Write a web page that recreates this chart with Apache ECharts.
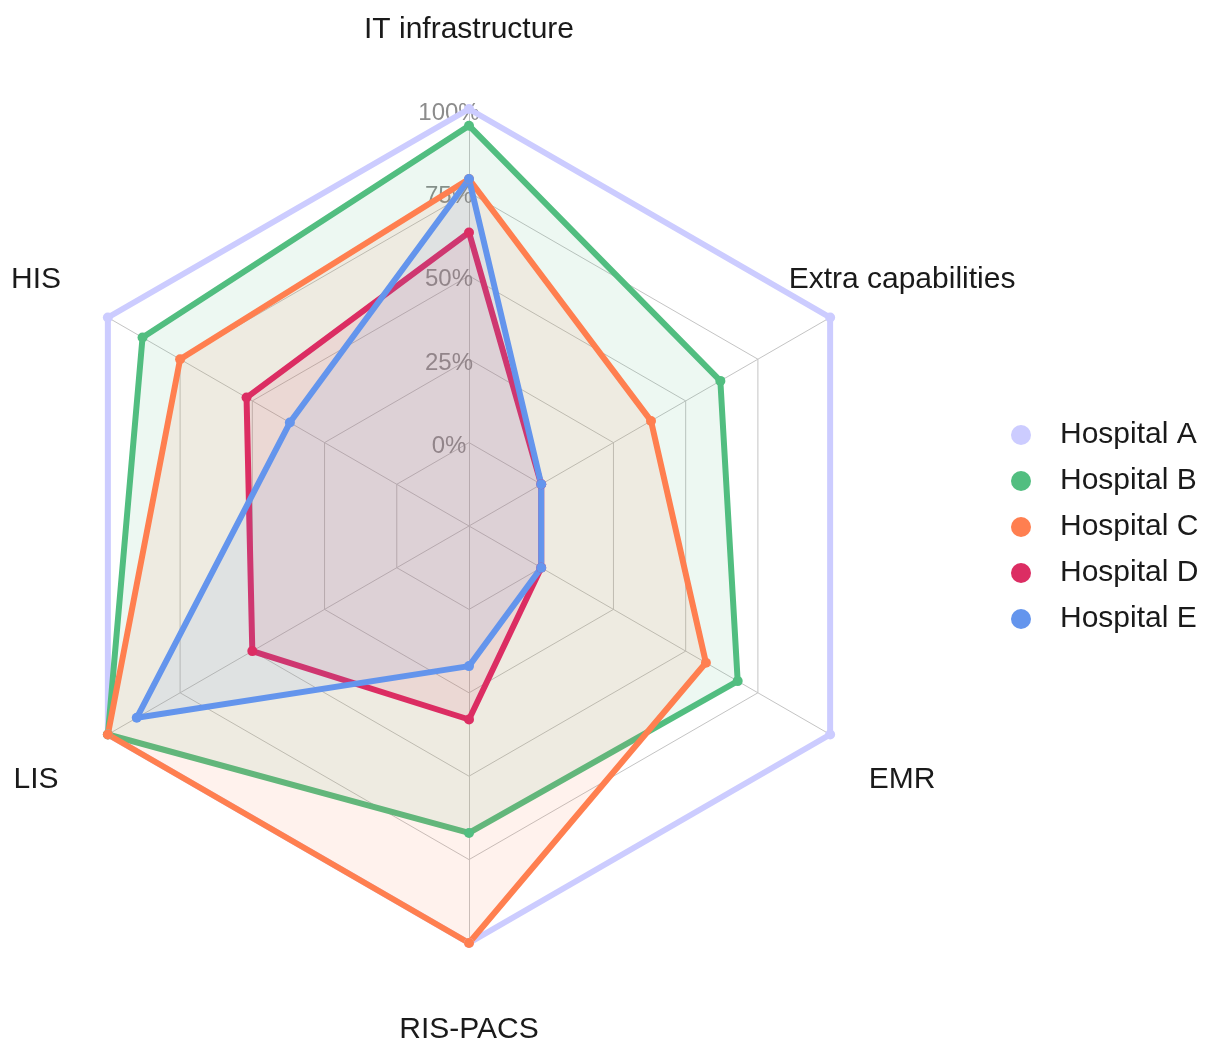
<!DOCTYPE html>
<html>
<head>
<meta charset="utf-8">
<script src="https://cdn.jsdelivr.net/npm/echarts@6/dist/echarts.min.js"></script>
<style>
  html, body { margin: 0; padding: 0; background: #ffffff; }
  #chart { width: 1206px; height: 1039px; }
</style>
</head>
<body>
<div id="chart"></div>
<script>
// Indicators, listed in the order the radar lays them out (counter-clockwise from the top)
const categories = ['IT infrastructure', 'HIS', 'LIS', 'RIS-PACS', 'EMR', 'Extra capabilities'];
const hospitalNames = ['Hospital A', 'Hospital B', 'Hospital C', 'Hospital D', 'Hospital E'];

// Scores per hospital (percent), same order as categories
const hospitalA = [100, 100, 100, 100, 100, 100];
const hospitalB = [95, 88, 100, 67, 68, 62];
const hospitalC = [79, 75, 100, 100, 57, 38];
const hospitalD = [63, 52, 50, 33, 0, 0];
const hospitalE = [79, 37, 90, 17, 0, 0];

// Ring labels from 0% outward; the centre ring (-25) stays unlabeled
const tickValues = [0, 25, 50, 75, 100];
const tickLabels = ['0%', '25%', '50%', '75%', '100%'];

const palette = ['#ccccff', '#52be80', '#ff7f50', '#dc2d63', '#6495ed'];
// Hospital A is drawn as an outline only
const fillOpacity = [0, 0.1, 0.1, 0.1, 0.1];
const seriesValues = [hospitalA, hospitalB, hospitalC, hospitalD, hospitalE];

const FONT = "'Liberation Sans', Arial, sans-serif";

const chart = echarts.init(document.getElementById('chart'), null, { renderer: 'canvas' });

const indicators = categories.map((name, i) => {
  const ind = { name: name, min: -25, max: 100 };
  if (i === 0) {
    ind.axisLabel = {
      show: true,
      color: '#8c8c8c',
      fontSize: 24,
      fontFamily: FONT,
      align: 'center',
      margin: 20,
      formatter: (v) => {
        const k = tickValues.indexOf(Math.round(v));
        return k >= 0 ? '{t|' + tickLabels[k] + '}' : '';
      },
      rich: {
        t: { color: '#8c8c8c', fontSize: 24, fontFamily: FONT, padding: [8, 0, 0, 0] }
      }
    };
  }
  return ind;
});

chart.setOption({
  animation: false,
  backgroundColor: '#ffffff',
  legend: {
    orient: 'vertical',
    left: 1006,
    top: 415,
    icon: 'circle',
    itemWidth: 20,
    itemHeight: 20,
    itemGap: 16,
    data: hospitalNames,
    textStyle: {
      fontSize: 30,
      fontFamily: FONT,
      color: '#1a1a1a',
      lineHeight: 28,
      padding: [0, 0, 0, 24]
    }
  },
  radar: {
    center: [469, 526],
    radius: 417,
    startAngle: 90,
    splitNumber: 5,
    shape: 'polygon',
    indicator: indicators,
    nameGap: 83,
    axisName: {
      color: '#1a1a1a',
      fontSize: 30,
      fontFamily: FONT,
      align: 'center',
      verticalAlign: 'middle',
      formatter: (name) => '{n|' + name + '}',
      rich: {
        n: { color: '#1a1a1a', fontSize: 30, fontFamily: FONT, padding: [8, 0, 0, 0] }
      }
    },
    axisLabel: { show: false },
    axisTick: { show: false },
    axisLine: { lineStyle: { color: '#c4c4c4', width: 1 } },
    splitLine: { lineStyle: { color: '#c4c4c4', width: 1 } },
    splitArea: { show: false }
  },
  series: [{
    type: 'radar',
    symbol: 'circle',
    symbolSize: 10,
    data: hospitalNames.map((name, i) => ({
      name: name,
      value: seriesValues[i],
      itemStyle: { color: palette[i] },
      lineStyle: { color: palette[i], width: 6 },
      areaStyle: { color: palette[i], opacity: fillOpacity[i] }
    }))
  }]
});
</script>
</body>
</html>
